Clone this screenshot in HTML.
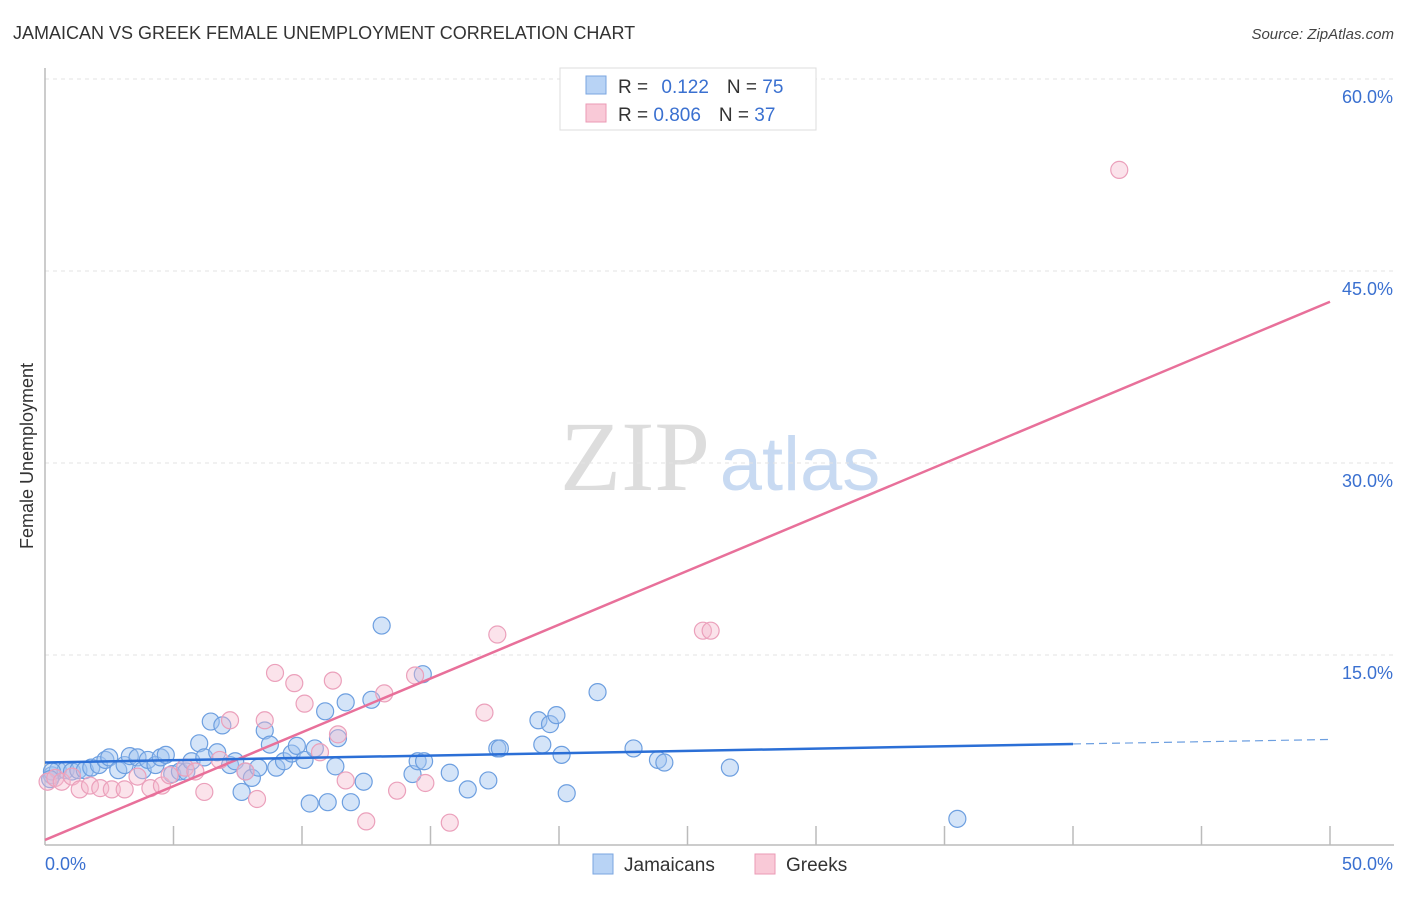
<!DOCTYPE html>
<html><head><meta charset="utf-8">
<style>
body{margin:0;background:#fff;font-family:"Liberation Sans",sans-serif;}
svg text{font-family:"Liberation Sans",sans-serif;}
</style></head>
<body>
<svg id="chart" width="1406" height="892" xmlns="http://www.w3.org/2000/svg">
<text x="13" y="39" font-size="18" fill="#333">JAMAICAN VS GREEK FEMALE UNEMPLOYMENT CORRELATION CHART</text>
<text x="1394" y="39" font-size="15" fill="#444" text-anchor="end" font-style="italic">Source: ZipAtlas.com</text>
<text transform="translate(33,456) rotate(-90)" font-size="18" fill="#333" text-anchor="middle">Female Unemployment</text>
<g>
<text x="635" y="490" font-size="100" fill="#ddd" style="font-family:'Liberation Serif',serif" text-anchor="middle">ZIP</text>
<text x="800" y="490" font-size="76" fill="#c8daf2" text-anchor="middle">atlas</text>
</g>
<g id="grid"></g>
<g id="axes"></g>
<g id="pts"></g>
<g id="lines"></g>
<g>
<rect x="560" y="68" width="256" height="62" fill="#fff" stroke="#ddd"/>
<rect x="586" y="76" width="20" height="18" fill="#b8d3f5" stroke="#7aa6e0"/>
<rect x="586" y="104" width="20" height="18" fill="#f9c9d7" stroke="#eb9ab5"/>
<text x="618" y="93" font-size="19" fill="#333">R = <tspan fill="#3a70d0" dx="8">0.122</tspan><tspan dx="18" fill="#333">N = </tspan><tspan fill="#3a70d0">75</tspan></text>
<text x="618" y="121" font-size="19" fill="#333">R = <tspan fill="#3a70d0">0.806</tspan><tspan dx="18" fill="#333">N = </tspan><tspan fill="#3a70d0">37</tspan></text>
</g>
<g>
<rect x="593" y="854" width="20" height="20" fill="#b8d3f5" stroke="#7aa6e0"/>
<text x="624" y="871" font-size="19" fill="#333">Jamaicans</text>
<rect x="755" y="854" width="20" height="20" fill="#f9c9d7" stroke="#eb9ab5"/>
<text x="786" y="871" font-size="19" fill="#333">Greeks</text>
</g>
</svg>
<script>
const yTicks=[15,30,45,60];
const yTickLabels=["15.0%","30.0%","45.0%","60.0%"];
const xEndLabels=["0.0%","50.0%"];
const blueX=[0.27,0.5,0.8,1.05,1.3,1.55,1.8,2.1,2.35,2.5,2.85,3.1,3.3,3.6,3.8,4.0,4.3,4.5,4.7,4.95,5.25,5.5,5.7,6.0,6.2,6.45,6.7,6.9,7.2,7.4,7.65,7.8,8.05,8.3,8.55,8.75,9.0,9.3,9.6,9.8,10.1,10.3,10.5,10.9,11.0,11.3,11.4,11.7,11.9,12.4,12.7,13.1,14.3,14.5,14.75,14.7,15.75,16.45,17.25,17.6,17.7,19.2,19.35,19.65,19.9,20.1,20.3,21.5,22.9,23.85,24.1,26.65,35.5,0.27,0.2];
const blueY=[5.6,6.0,6.0,5.9,6.0,6.0,6.2,6.4,6.8,7.0,6.0,6.4,7.1,7.0,6.0,6.8,6.4,7.0,7.2,5.7,5.9,5.9,6.7,8.1,7.0,9.8,7.4,9.5,6.4,6.7,4.3,5.9,5.4,6.2,9.1,8.0,6.2,6.7,7.3,7.9,6.8,3.4,7.7,10.6,3.5,6.3,8.5,11.3,3.5,5.1,11.5,17.3,5.7,6.7,6.7,13.5,5.8,4.5,5.2,7.7,7.7,9.9,8.0,9.6,10.3,7.2,4.2,12.1,7.7,6.8,6.6,6.2,2.2,5.9,5.3];
const pinkX=[0.1,0.4,0.65,1.05,1.35,1.75,2.15,2.6,3.1,3.6,4.1,4.55,4.85,5.45,5.85,6.2,6.8,7.2,7.8,8.25,8.55,8.95,9.7,10.1,10.7,11.2,11.4,11.7,12.5,13.2,13.7,14.4,14.8,15.75,17.1,17.6,25.6,25.9,41.8];
const pinkY=[5.1,5.4,5.1,5.5,4.5,4.8,4.6,4.5,4.5,5.5,4.6,4.8,5.6,6.2,5.9,4.3,6.8,9.9,5.9,3.75,9.9,13.6,12.8,11.2,7.4,13.0,8.8,5.2,2.0,12.0,4.4,13.4,5.0,1.9,10.5,16.6,16.9,16.9,52.9];
const blueTrend=[6.6,8.05,8.4];
const pinkTrend=[0.55,42.6];
const NS="http://www.w3.org/2000/svg";
const X=v=>45+v*25.7, Y=v=>847-v*12.8;
function mk(p,t,a){const e=document.createElementNS(NS,t);for(const k in a)e.setAttribute(k,a[k]);p.appendChild(e);return e;}
const grid=document.getElementById('grid'),axes=document.getElementById('axes'),pts=document.getElementById('pts'),lines=document.getElementById('lines');
yTicks.forEach((t,i)=>{
 const l=mk(grid,'line',{x1:45,x2:1394,y1:Y(t),y2:Y(t),stroke:'#e3e3e3','stroke-dasharray':'4,4'});
 
 
 const tx=mk(grid,'text',{x:1393,y:Y(t)+24,'font-size':18,fill:'#3a70d0','text-anchor':'end'});
 tx.textContent=yTickLabels[i];
 
 
});
let a=mk(axes,'line',{x1:45,x2:45,y1:68,y2:845,stroke:'#bbb','stroke-width':1.5});


a=mk(axes,'line',{x1:45,x2:1394,y1:845,y2:845,stroke:'#bbb','stroke-width':1.5});


for(let v=5;v<=50;v+=5){const t=mk(axes,'line',{x1:X(v),x2:X(v),y1:826,y2:845,stroke:'#bbb','stroke-width':1.5});
 
 }
[[0,'start',45],[50,'end',1393]].forEach((d,i)=>{const t=mk(axes,'text',{x:d[2],y:870,'font-size':18,fill:'#3a70d0','text-anchor':d[1]});t.textContent=xEndLabels[i];
 
 });
blueX.forEach((x,i)=>{const c=mk(pts,'circle',{cx:X(x),cy:Y(blueY[i]),r:8.5,fill:'rgba(160,196,240,0.45)',stroke:'#6d9fe0','stroke-width':1.2});
 
 });
pinkX.forEach((x,i)=>{const c=mk(pts,'circle',{cx:X(x),cy:Y(pinkY[i]),r:8.5,fill:'rgba(246,185,205,0.4)',stroke:'#eba0bb','stroke-width':1.2});
 
 });
let tl=mk(lines,'line',{x1:X(0),y1:Y(pinkTrend[0]),x2:X(50),y2:Y(pinkTrend[1]),stroke:'#e8709a','stroke-width':2.5});


tl=mk(lines,'line',{x1:X(0),y1:Y(blueTrend[0]),x2:X(40),y2:Y(blueTrend[1]),stroke:'#2b6fd6','stroke-width':2.5});


tl=mk(lines,'line',{x1:X(40),y1:Y(blueTrend[1]),x2:X(50),y2:Y(blueTrend[2]),stroke:'#6d9fe0','stroke-width':1.2,'stroke-dasharray':'8,5'});


</script>
</body></html>
